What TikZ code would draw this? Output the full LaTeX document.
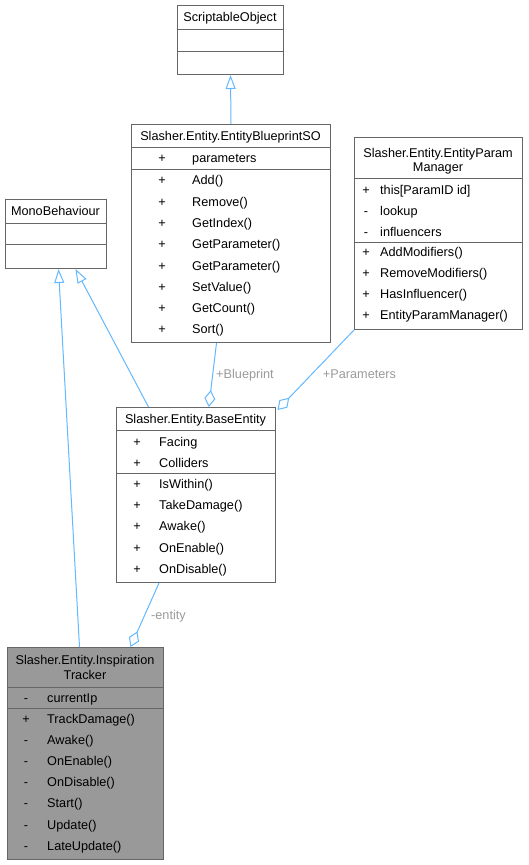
\documentclass[tikz,border=0pt]{standalone}
\usepackage{fontspec}
\setmainfont{Liberation Sans}
\usetikzlibrary{arrows.meta}
\definecolor{edgeblue}{HTML}{63B8FF}
\definecolor{boxgray}{HTML}{666666}
\definecolor{labelgray}{HTML}{9A9A9A}
\definecolor{curfill}{HTML}{999999}
\newcommand{\thick}{1pt}
\newcommand{\fs}{\fontsize{12.7}{13}\selectfont}
\tikzset{
  box/.style={draw=boxgray, fill=white, line width=\thick, inner sep=0pt, anchor=north west},
  sep/.style={boxgray, line width=\thick},
  txt/.style={font=\fs, inner sep=0pt, text height=9pt, text depth=0pt},
  lbl/.style={txt, text=labelgray},
  inh/.style={edgeblue, line width=\thick, -{Triangle[open, length=14pt, width=10pt]}},
  agg/.style={edgeblue, line width=\thick, -{Diamond[open, length=17pt, width=11pt]}}
}

\begin{document}
\begin{tikzpicture}[x=1pt, y=-1pt]
\useasboundingbox (0,0) rectangle (528,865);
%ScriptableObject
\node[box, minimum width=106pt, minimum height=69pt] (so) at (177,5) {};
\draw[sep] (177,29) -- (283,29);
\draw[sep] (177,51) -- (283,51);
\node[txt] (sot) at (230,17) {ScriptableObject};
%EntityBlueprintSO
\node[box, minimum width=199pt, minimum height=218pt] (bp) at (131,124) {};
\draw[sep] (131,147) -- (330,147);
\draw[sep] (131,169) -- (330,169);
\node[txt] (bpt) at (230.5,136) {Slasher.Entity.EntityBlueprintSO};
\node[txt] (bps1) at (162,158) {+};
\node[txt] (bps2) at (162,180) {+};
\node[txt] (bps3) at (162,201.5) {+};
\node[txt] (bps4) at (162,222.5) {+};
\node[txt] (bps5) at (162,244) {+};
\node[txt] (bps6) at (162,265.5) {+};
\node[txt] (bps7) at (162,287) {+};
\node[txt] (bps8) at (162,308) {+};
\node[txt] (bps9) at (162,329) {+};
\node[txt, anchor=west] (bpm1) at (192,158) {parameters};
\node[txt, anchor=west] (bpm2) at (192,180) {Add()};
\node[txt, anchor=west] (bpm3) at (192,201.5) {Remove()};
\node[txt, anchor=west] (bpm4) at (192,222.5) {GetIndex()};
\node[txt, anchor=west] (bpm5) at (192,244) {GetParameter()};
\node[txt, anchor=west] (bpm6) at (192,265.5) {GetParameter()};
\node[txt, anchor=west] (bpm7) at (192,287) {SetValue()};
\node[txt, anchor=west] (bpm8) at (192,308) {GetCount()};
\node[txt, anchor=west] (bpm9) at (192,329) {Sort()};
%EntityParamManager
\node[box, minimum width=168pt, minimum height=192pt] (pm) at (354,137) {};
\draw[sep] (354,178) -- (522,178);
\draw[sep] (354,242) -- (522,242);
\node[txt] (pmt1) at (438,153) {Slasher.Entity.EntityParam};
\node[txt] (pmt2) at (438,166.5) {Manager};
\node[txt] (pms1) at (366,189.5) {+};
\node[txt] (pms2) at (366,210.5) {-};
\node[txt] (pms3) at (366,231.5) {-};
\node[txt] (pms4) at (366,252) {+};
\node[txt] (pms5) at (366,273) {+};
\node[txt] (pms6) at (366,294) {+};
\node[txt] (pms7) at (366,315) {+};
\node[txt, anchor=west] (pmm1) at (380,189.5) {this[ParamID id]};
\node[txt, anchor=west] (pmm2) at (380,210.5) {lookup};
\node[txt, anchor=west] (pmm3) at (380,231.5) {influencers};
\node[txt, anchor=west] (pmm4) at (380,252) {AddModifiers()};
\node[txt, anchor=west] (pmm5) at (380,273) {RemoveModifiers()};
\node[txt, anchor=west] (pmm6) at (380,294) {HasInfluencer()};
\node[txt, anchor=west] (pmm7) at (380,315) {EntityParamManager()};
%MonoBehaviour
\node[box, minimum width=101pt, minimum height=69pt] (mb) at (5,199) {};
\draw[sep] (5,223) -- (106,223);
\draw[sep] (5,244) -- (106,244);
\node[txt] (mbt) at (55.5,211) {MonoBehaviour};
%BaseEntity
\node[box, minimum width=159pt, minimum height=175pt] (be) at (116,407) {};
\draw[sep] (116,430) -- (275,430);
\draw[sep] (116,473) -- (275,473);
\node[txt] (bet) at (195.5,419) {Slasher.Entity.BaseEntity};
\node[txt] (bes1) at (137,441.5) {+};
\node[txt] (bes2) at (137,462.5) {+};
\node[txt] (bes3) at (137,484) {+};
\node[txt] (bes4) at (137,505) {+};
\node[txt] (bes5) at (137,526) {+};
\node[txt] (bes6) at (137,547.5) {+};
\node[txt] (bes7) at (137,569) {+};
\node[txt, anchor=west] (bem1) at (159,441.5) {Facing};
\node[txt, anchor=west] (bem2) at (159,462.5) {Colliders};
\node[txt, anchor=west] (bem3) at (159,484) {IsWithin()};
\node[txt, anchor=west] (bem4) at (159,505) {TakeDamage()};
\node[txt, anchor=west] (bem5) at (159,526) {Awake()};
\node[txt, anchor=west] (bem6) at (159,547.5) {OnEnable()};
\node[txt, anchor=west] (bem7) at (159,569) {OnDisable()};
%InspirationTracker
\node[box, fill=curfill, minimum width=156pt, minimum height=212pt] (it) at (7,647) {};
\draw[sep] (7,687) -- (163,687);
\draw[sep] (7,708) -- (163,708);
\node[txt] (itt1) at (85,660) {Slasher.Entity.Inspiration};
\node[txt] (itt2) at (85,675) {Tracker};
\node[txt] (its1) at (26,697.5) {-};
\node[txt] (its2) at (26,718.5) {+};
\node[txt] (its3) at (26,739.5) {-};
\node[txt] (its4) at (26,761) {-};
\node[txt] (its5) at (26,782) {-};
\node[txt] (its6) at (26,803) {-};
\node[txt] (its7) at (26,824.5) {-};
\node[txt] (its8) at (26,846) {-};
\node[txt, anchor=west] (itm1) at (47,697.5) {currentIp};
\node[txt, anchor=west] (itm2) at (47,718.5) {TrackDamage()};
\node[txt, anchor=west] (itm3) at (47,739.5) {Awake()};
\node[txt, anchor=west] (itm4) at (47,761) {OnEnable()};
\node[txt, anchor=west] (itm5) at (47,782) {OnDisable()};
\node[txt, anchor=west] (itm6) at (47,803) {Start()};
\node[txt, anchor=west] (itm7) at (47,824.5) {Update()};
\node[txt, anchor=west] (itm8) at (47,846) {LateUpdate()};
%inheritance
\draw[inh] (bp.north) -- (so.south);
\draw[inh] ([xshift=-47.5pt]be.north) -- ([xshift=19.5pt]mb.south);
\draw[inh] ([xshift=-6pt]it.north) -- ([xshift=2.5pt]mb.south);
%aggregation
\draw[agg] ([xshift=-14.5pt]bp.south) -- ([xshift=12.8pt]be.north);
\draw[agg] (pm.south west) -- ([shift={(1.5pt,-3pt)}]be.north east);
\draw[agg] ([xshift=-37pt]be.south) -- ([xshift=45pt]it.north);
\node[lbl] (lblbp) at (245,374) {+Blueprint};
\node[lbl] (lblpm) at (359.5,374) {+Parameters};
\node[lbl] (lblbe) at (168.5,615) {-entity};
\end{tikzpicture}
\end{document}
